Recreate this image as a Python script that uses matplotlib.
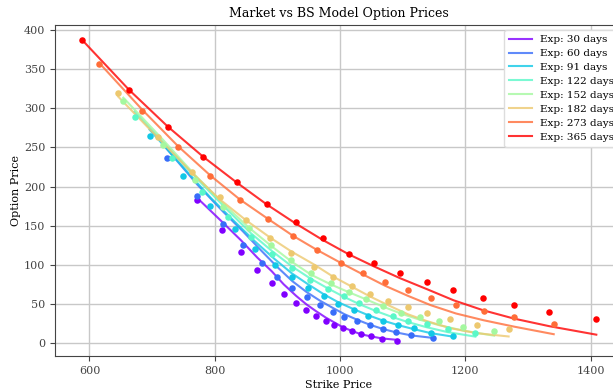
import numpy as np
import matplotlib
matplotlib.use("Agg")
import matplotlib.pyplot as plt

plt.rcParams['font.family'] = ['DejaVu Serif']

expiries = [30, 60, 91, 122, 152, 182, 273, 365]

# strikes, market quotes and BS model prices for each expiry
strikes_30 = [772, 811, 842, 868, 891, 910, 930, 946, 961, 977, 991, 1005, 1019, 1033, 1050, 1067, 1091]
market_30 = [182.9, 144.2, 116.2, 94.1, 77.1, 63.0, 51.3, 42.4, 34.5, 28.0, 22.9, 19.1, 15.3, 11.5, 8.9, 5.9, 3.3]
model_30 = [185.5, 155.6, 131.4, 109.4, 92.0, 75.4, 60.6, 50.0, 41.5, 33.1, 26.7, 20.4, 16.0, 11.8, 8.9, 6.4, 4.6]

strikes_60 = [723, 772, 813, 845, 875, 900, 924, 947, 968, 988, 1007, 1027, 1047, 1069, 1090, 1114, 1148]
market_60 = [236.6, 188.3, 152.7, 125.1, 103.1, 85.2, 71.0, 59.2, 49.0, 40.7, 33.1, 28.0, 22.9, 17.8, 14.0, 10.2, 6.4]
model_60 = [248.5, 202.7, 168.3, 142.9, 117.7, 97.3, 79.3, 65.3, 54.5, 45.5, 37.3, 30.3, 24.0, 18.3, 14.0, 10.2, 7.1]

strikes_91 = [696, 750, 793, 833, 864, 896, 923, 949, 974, 997, 1022, 1045, 1069, 1093, 1118, 1145, 1180]
market_91 = [264.1, 214.1, 175.3, 146.1, 121.0, 100.6, 85.2, 71.2, 60.6, 50.4, 42.4, 35.1, 28.0, 23.3, 19.1, 13.5, 8.9]
model_91 = [272.6, 224.3, 186.1, 154.3, 130.2, 107.3, 89.4, 75.4, 62.7, 52.6, 43.6, 36.0, 29.0, 23.3, 18.2, 13.1, 8.7]

strikes_122 = [672, 731, 779, 821, 858, 892, 923, 952, 980, 1006, 1031, 1058, 1084, 1109, 1138, 1172, 1216]
market_122 = [288.8, 235.8, 193.4, 161.3, 135.2, 113.6, 96.7, 80.9, 69.5, 60.2, 51.1, 42.4, 34.4, 28.9, 24.6, 17.8, 12.8]
model_122 = [295.5, 244.7, 204.0, 169.6, 140.3, 117.4, 98.3, 83.1, 70.4, 59.5, 50.0, 41.1, 33.5, 27.1, 20.7, 14.4, 8.7]

strikes_152 = [654, 717, 769, 813, 854, 890, 922, 954, 985, 1014, 1041, 1069, 1098, 1127, 1158, 1197, 1246]
market_152 = [308.7, 253.6, 209.0, 174.3, 147.6, 125.1, 106.0, 89.8, 76.7, 65.9, 56.4, 47.5, 39.4, 33.1, 28.0, 21.6, 15.3]
model_152 = [313.4, 260.0, 214.2, 178.6, 148.0, 124.4, 104.7, 87.5, 75.4, 65.3, 56.4, 46.8, 37.9, 30.3, 23.3, 16.3, 9.9]

strikes_182 = [646, 709, 763, 808, 850, 888, 922, 958, 988, 1019, 1047, 1077, 1108, 1139, 1176, 1218, 1269]
market_182 = [319.3, 263.1, 218.8, 186.1, 157.5, 134.4, 114.9, 98.0, 84.7, 73.3, 62.7, 53.8, 46.2, 38.5, 31.8, 23.9, 17.8]
model_182 = [314.6, 262.5, 218.0, 183.7, 157.0, 135.2, 117.4, 100.9, 85.6, 72.3, 60.2, 48.7, 37.3, 28.4, 19.5, 13.1, 8.9]

strikes_273 = [616, 684, 742, 793, 840, 885, 925, 963, 1001, 1036, 1072, 1108, 1145, 1185, 1229, 1278, 1341]
market_273 = [356.2, 296.8, 250.1, 214.1, 183.0, 159.0, 136.9, 118.7, 103.1, 90.3, 78.4, 68.2, 57.6, 49.1, 41.3, 33.5, 25.4]
model_273 = [357.3, 298.2, 251.0, 214.1, 183.6, 158.8, 137.2, 119.3, 102.8, 88.2, 73.5, 60.8, 48.7, 38.2, 29.6, 21.4, 11.8]

strikes_365 = [588, 663, 725, 782, 835, 883, 929, 972, 1014, 1054, 1096, 1139, 1181, 1228, 1278, 1334, 1409]
market_365 = [387.2, 323.5, 276.5, 237.9, 205.9, 178.2, 155.0, 135.0, 114.5, 103.1, 90.3, 78.4, 68.2, 57.6, 48.7, 39.8, 30.7]
model_365 = [387.2, 323.5, 276.5, 237.7, 205.2, 177.2, 153.0, 132.1, 113.6, 98.3, 83.1, 69.1, 55.1, 42.4, 31.6, 22.0, 11.2]

strikes = [strikes_30, strikes_60, strikes_91, strikes_122, strikes_152, strikes_182, strikes_273, strikes_365]
market = [market_30, market_60, market_91, market_122, market_152, market_182, market_273, market_365]
model = [model_30, model_60, model_91, model_122, model_152, model_182, model_273, model_365]

colors = plt.cm.rainbow(np.linspace(0, 1, len(expiries)))

fig = plt.figure(figsize=(6.13, 3.90), dpi=100)
ax = fig.add_axes([55 / 613, 34 / 390, 567 / 613, 331 / 390])

for days, k, mkt, bs, c in zip(expiries, strikes, market, model, colors):
    ax.scatter(k, mkt, color=c, s=22, zorder=3, linewidths=0)
    ax.plot(k, bs, color=c, lw=1.5, alpha=0.8, label=f'Exp: {days} days', zorder=2)

ax.set_xlim(545, 1450)
ax.set_ylim(-16, 406)
ax.set_xticks([600, 800, 1000, 1200, 1400])
ax.set_yticks(np.arange(0, 401, 50))
ax.grid(True, color='#c8c8c8', lw=1.0)
ax.set_axisbelow(True)
for s in ax.spines.values():
    s.set_color('#444444')
ax.tick_params(labelsize=8, colors='#444444', length=3.5, width=0.8)

ax.set_title('Market vs BS Model Option Prices', fontsize=9, pad=6)
ax.set_xlabel('Strike Price', fontsize=8, labelpad=3)
ax.set_ylabel('Option Price', fontsize=8, labelpad=2)
ax.legend(loc='upper right', bbox_to_anchor=(1.004, 1.0), fontsize=7.5,
          framealpha=1.0, edgecolor='#dddddd', handlelength=2.2,
          labelspacing=0.45, borderpad=0.45)

fig.savefig('out.png', dpi=100)
